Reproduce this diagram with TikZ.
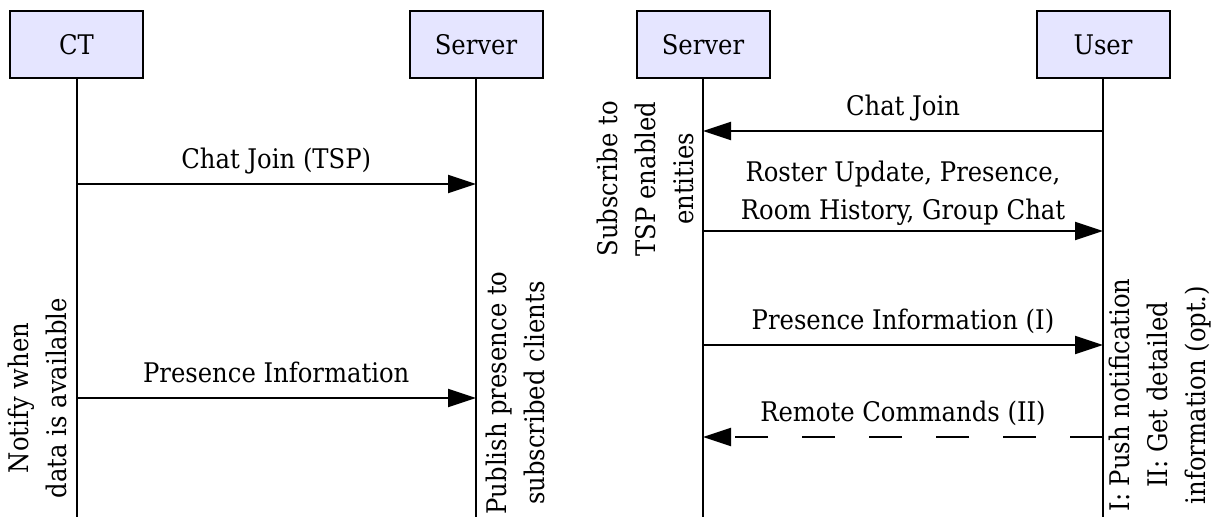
\documentclass[tikz,border=0pt]{standalone}
\usepackage{fontspec}
\setmainfont{DejaVu Serif Condensed}
\usetikzlibrary{arrows.meta}

\tikzset{every picture/.style={line width=1pt}}
\tikzset{
  actor/.style={draw, fill=blue!10, minimum width=66.5pt, minimum height=33.5pt, inner sep=0pt},
  msg/.style={-{Triangle[length=14pt,width=9pt]}},
  msglabel/.style={midway, anchor=base, yshift=7.5pt, inner sep=0pt, align=center},
  sidenote/.style={rotate=90, inner sep=0pt, align=center}
}

\begin{document}
\begin{tikzpicture}[x=0.5pt,y=0.5pt,yscale=-1,xscale=1,font=\fontsize{13.5pt}{19pt}\selectfont]
\useasboundingbox (0,0) rectangle (1212,517);

% Actors
\node [actor] (ct) at (76.5,44.5) {CT};
\node [actor] (srvA) at (476,44.5) {Server};
\node [actor] (srvB) at (703,44.5) {Server};
\node [actor] (user) at (1103,44.5) {User};

% Lifelines
\coordinate (ctEnd) at (76.5,517);
\coordinate (srvAEnd) at (476,517);
\coordinate (srvBEnd) at (703,517);
\coordinate (userEnd) at (1103,517);
\draw (ct) -- (ctEnd);
\draw (srvA) -- (srvAEnd);
\draw (srvB) -- (srvBEnd);
\draw (user) -- (userEnd);

% Message points on the lifelines
\coordinate (ct1) at (76.5,184);
\coordinate (ct2) at (76.5,398);
\coordinate (srvA1) at (476,184);
\coordinate (srvA2) at (476,398);
\coordinate (srvB1) at (703,131);
\coordinate (srvB2) at (703,231);
\coordinate (srvB3) at (703,345);
\coordinate (srvB4) at (703,437);
\coordinate (user1) at (1103,131);
\coordinate (user2) at (1103,231);
\coordinate (user3) at (1103,345);
\coordinate (user4) at (1103,437);

% Messages
\draw [msg] (ct1) -- (srvA1) node [msglabel] {Chat Join (TSP)};
\draw [msg] (ct2) -- (srvA2) node [msglabel] {Presence Information};
\draw [msg] (user1) -- (srvB1) node [msglabel] {Chat Join};
\draw [msg] (srvB2) -- (user2) node [msglabel, yshift=-1.6pt] {Roster Update, Presence,\\Room History, Group Chat};
\draw [msg] (srvB3) -- (user3) node [msglabel] {Presence Information (I)};
\draw [msg, dash pattern=on 16.5pt off 17pt] (user4) -- (srvB4) node [msglabel] {Remote Commands (II)};

% Notes beside the lifelines
\node [sidenote, anchor=south] (notify) at (68,398) {Notify when\\data is available};
\node [sidenote, anchor=north] (publish) at (485,393) {Publish presence to\\subscribed clients};
\node [sidenote, anchor=south] (subscribe) at (695,179) {Subscribe to\\TSP enabled\\entities};
\node [sidenote, anchor=north] (push) at (1108,395) {I: Push notification\\II: Get detailed\\information (opt.)};

\end{tikzpicture}
\end{document}
